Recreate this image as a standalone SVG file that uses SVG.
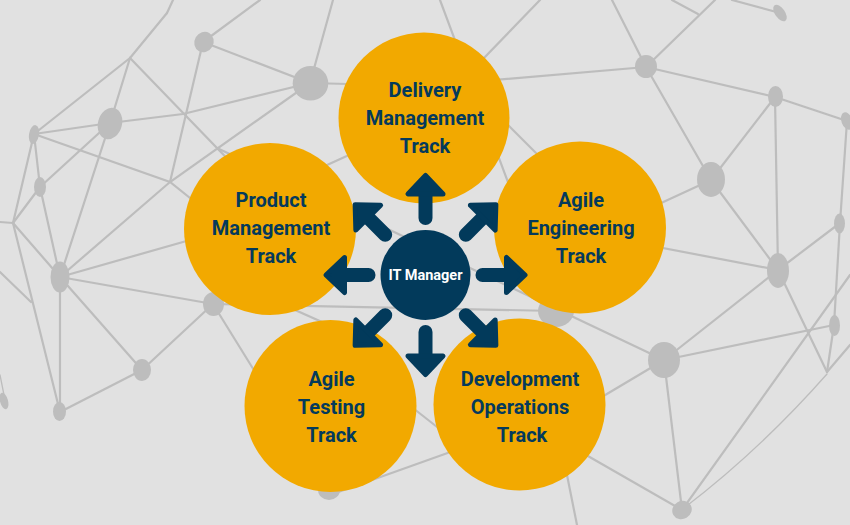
<svg xmlns="http://www.w3.org/2000/svg" xmlns:xlink="http://www.w3.org/1999/xlink" width="850" height="525" viewBox="0 0 850 525">
<style>
.bg{fill:#E1E1E1}
.net line,.net polyline,.net path{stroke:#BDBDBD;stroke-width:2.2;fill:none;stroke-linecap:round}
.net .thin{stroke-width:1.3}
.net ellipse{fill:#BDBDBD}
.track{fill:#F2A900}
.lbl{font-family:Roboto,"Liberation Sans",sans-serif;font-weight:700;font-size:20px;fill:#043A5C;text-anchor:middle}
.hub{fill:#023A5B}
.hubtxt{font-family:Roboto,"Liberation Sans",sans-serif;font-weight:700;font-size:14.5px;fill:#FFFFFF;text-anchor:middle}
.arr{fill:#023A5B;stroke:#023A5B}
</style>
<defs>
<g id="arrow" class="arr">
<line x1="0" y1="-57" x2="0" y2="-84" stroke-width="14" stroke-linecap="round"/>
<polygon points="0,-99.5 -17.5,-81 17.5,-81" stroke-width="5" stroke-linejoin="round"/>
</g>
</defs>
<rect class="bg" x="0" y="0" width="850" height="525"/>
<g id="network" class="net">
<line x1="173" y1="0" x2="167" y2="13"/>
<line x1="167" y1="13" x2="130" y2="58"/>
<line x1="130" y1="58" x2="34" y2="134"/>
<line x1="130" y1="58" x2="110" y2="123"/>
<line x1="130" y1="58" x2="245" y2="177"/>
<line x1="203" y1="42" x2="260" y2="0"/>
<line x1="203" y1="42" x2="310" y2="83"/>
<line x1="203" y1="42" x2="170" y2="182"/>
<line x1="310" y1="83" x2="333" y2="0"/>
<polyline points="310,83 424,86 646,67"/>
<polyline points="310,83 183,114 110,123"/>
<polyline points="310,83 170,182 60,277"/>
<line x1="110" y1="123" x2="34" y2="134"/>
<polyline points="34,134 170,182 205,210"/>
<line x1="110" y1="123" x2="40" y2="187"/>
<line x1="110" y1="123" x2="60" y2="277"/>
<line x1="34" y1="134" x2="40" y2="187"/>
<line x1="34" y1="134" x2="13" y2="223"/>
<line x1="40" y1="187" x2="13" y2="223"/>
<line x1="40" y1="187" x2="60" y2="277"/>
<line x1="0" y1="222" x2="13" y2="223"/>
<line x1="13" y1="223" x2="60" y2="277"/>
<line x1="13" y1="223" x2="60" y2="412"/>
<line x1="60" y1="277" x2="190" y2="240"/>
<line x1="60" y1="277" x2="213" y2="304"/>
<line x1="60" y1="277" x2="142" y2="370"/>
<line x1="60" y1="277" x2="60" y2="412"/>
<line x1="0" y1="272" x2="31" y2="302"/>
<line class="thin" x1="0" y1="375" x2="5" y2="400"/>
<line x1="60" y1="412" x2="142" y2="370"/>
<line x1="142" y1="370" x2="213" y2="304"/>
<line x1="213" y1="304" x2="260" y2="380"/>
<line x1="213" y1="304" x2="556" y2="311"/>
<line x1="250" y1="200" x2="360" y2="150"/>
<line x1="217" y1="148" x2="664" y2="360"/>
<line x1="440" y1="0" x2="556" y2="311"/>
<line x1="450" y1="67" x2="560" y2="177"/>
<line x1="425" y1="119" x2="540" y2="0"/>
<line x1="612" y1="0" x2="646" y2="67"/>
<line x1="646" y1="67" x2="715" y2="0"/>
<line x1="672" y1="0" x2="698" y2="14"/>
<line x1="732" y1="0" x2="780" y2="13"/>
<line x1="646" y1="67" x2="775" y2="97"/>
<line x1="775" y1="97" x2="847" y2="121"/>
<line x1="646" y1="67" x2="711" y2="180"/>
<line x1="711" y1="180" x2="775" y2="97"/>
<line x1="775" y1="97" x2="778" y2="270"/>
<line x1="711" y1="180" x2="620" y2="222"/>
<line x1="711" y1="180" x2="778" y2="270"/>
<line x1="600" y1="236" x2="778" y2="270"/>
<line x1="847" y1="121" x2="840" y2="223"/>
<line x1="840" y1="223" x2="778" y2="270"/>
<line x1="840" y1="223" x2="834" y2="325"/>
<line x1="778" y1="270" x2="664" y2="360"/>
<line x1="778" y1="270" x2="827" y2="372"/>
<line x1="834" y1="325" x2="827" y2="372"/>
<line x1="834" y1="325" x2="664" y2="360"/>
<line x1="850" y1="345" x2="827" y2="372"/>
<path class="thin" d="M827,374 Q760,450 684,508"/>
<line x1="682" y1="510" x2="850" y2="275"/>
<line x1="664" y1="360" x2="682" y2="510"/>
<line x1="664" y1="360" x2="580" y2="410"/>
<line x1="682" y1="510" x2="560" y2="440"/>
<line x1="557" y1="425" x2="577" y2="525"/>
<line x1="330" y1="495" x2="470" y2="445"/>
<line x1="390" y1="390" x2="460" y2="445"/>
<line x1="250" y1="290" x2="340" y2="330"/>
<ellipse cx="204" cy="42" rx="9.5" ry="10.5" transform="rotate(30 204 42)"/>
<ellipse cx="310.5" cy="83.3" rx="17.8" ry="17.3"/>
<ellipse cx="110" cy="123.5" rx="12" ry="16" transform="rotate(15 110 123.5)"/>
<ellipse cx="34" cy="134.5" rx="5" ry="9.5" transform="rotate(10 34 134.5)"/>
<ellipse cx="40" cy="187" rx="6" ry="10"/>
<ellipse cx="60" cy="277" rx="9.5" ry="15.5"/>
<ellipse cx="213.5" cy="304" rx="10.5" ry="12"/>
<ellipse cx="142" cy="370" rx="9" ry="11"/>
<ellipse cx="59.5" cy="411.5" rx="6.5" ry="9.5"/>
<ellipse cx="4" cy="401" rx="4" ry="8.5" transform="rotate(-15 4 401)"/>
<ellipse cx="329" cy="490" rx="11" ry="10"/>
<ellipse cx="646" cy="66.5" rx="11" ry="11.5"/>
<ellipse cx="775.5" cy="96.5" rx="7.5" ry="10.5"/>
<ellipse cx="847" cy="121" rx="5.5" ry="9" transform="rotate(-20 847 121)"/>
<ellipse cx="780" cy="13" rx="5" ry="9.5" transform="rotate(-35 780 13)"/>
<ellipse cx="711" cy="179.5" rx="14" ry="17.5"/>
<ellipse cx="839.5" cy="223.5" rx="5.5" ry="10"/>
<ellipse cx="778" cy="270.5" rx="11" ry="17.5"/>
<ellipse cx="834.5" cy="325.5" rx="5.5" ry="10.5"/>
<ellipse cx="664" cy="360" rx="16" ry="18"/>
<ellipse cx="556" cy="311" rx="18" ry="16"/>
<ellipse cx="682" cy="510" rx="10" ry="9" transform="rotate(-30 682 510)"/>
</g>
<g id="delivery">
<circle class="track" cx="424" cy="118" r="85.5"/>
<text class="lbl" x="425" y="97">Delivery</text>
<text class="lbl" x="425" y="125">Management</text>
<text class="lbl" x="425" y="153">Track</text>
</g>
<g id="product">
<circle class="track" cx="270" cy="229" r="86"/>
<text class="lbl" x="271" y="207">Product</text>
<text class="lbl" x="271" y="235">Management</text>
<text class="lbl" x="271" y="263">Track</text>
</g>
<g id="agile-engineering">
<circle class="track" cx="580" cy="227.5" r="86"/>
<text class="lbl" x="581" y="207">Agile</text>
<text class="lbl" x="581" y="235">Engineering</text>
<text class="lbl" x="581" y="263">Track</text>
</g>
<g id="agile-testing">
<circle class="track" cx="330.5" cy="406" r="86"/>
<text class="lbl" x="331.5" y="386">Agile</text>
<text class="lbl" x="331.5" y="414">Testing</text>
<text class="lbl" x="331.5" y="442">Track</text>
</g>
<g id="development-operations">
<circle class="track" cx="519.5" cy="404.5" r="86"/>
<text class="lbl" x="520" y="386">Development</text>
<text class="lbl" x="520" y="414">Operations</text>
<text class="lbl" x="522" y="442">Track</text>
</g>
<g id="connectors">
<use xlink:href="#arrow" transform="translate(425.5,275) rotate(0)"/>
<use xlink:href="#arrow" transform="translate(425.5,275) rotate(45)"/>
<use xlink:href="#arrow" transform="translate(425.5,275) rotate(90)"/>
<use xlink:href="#arrow" transform="translate(425.5,275) rotate(135)"/>
<use xlink:href="#arrow" transform="translate(425.5,275) rotate(180)"/>
<use xlink:href="#arrow" transform="translate(425.5,275) rotate(225)"/>
<use xlink:href="#arrow" transform="translate(425.5,275) rotate(270)"/>
<use xlink:href="#arrow" transform="translate(425.5,275) rotate(315)"/>
</g>
<g id="it-manager">
<circle class="hub" cx="425.5" cy="275" r="45"/>
<text class="hubtxt" x="425.5" y="280">IT Manager</text>
</g>
</svg>
